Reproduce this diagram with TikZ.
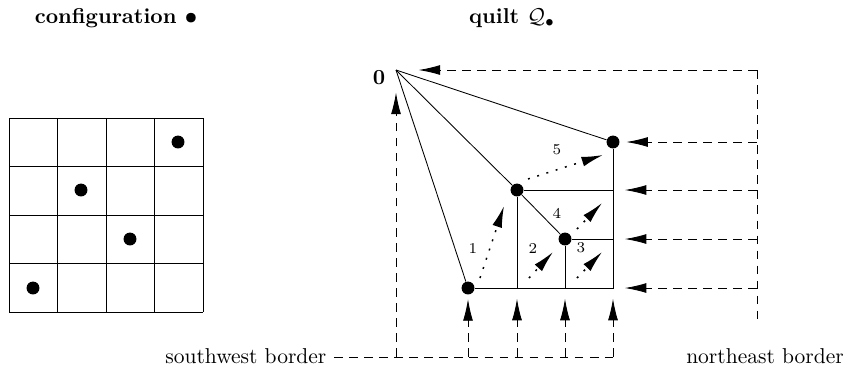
\documentclass[tikz,border=0pt]{standalone}
\usepackage{amssymb}
\usepackage{amsmath}
\usetikzlibrary{arrows.meta}
\begin{document}
\begin{tikzpicture}[x=0.465pt,y=-0.465pt,
  cell/.style={inner sep=0pt, minimum size=6pt, fill=black, circle},
  border/.style={dash pattern=on 4pt off 3pt},
  flip/.style={dash pattern=on 0.9pt off 3.6pt, line width=0.7pt},
  lab/.style={font=\scriptsize},
  >={Latex[length=10pt,width=4.6pt]}]
\useasboundingbox (0,0) rectangle (853,367);
% configuration
\node[font=\bfseries] (conftitle) at (116,18) {configuration $\boldsymbol{\bullet}$};
\foreach \i in {0,...,4} {
  \draw (9+48.5*\i,118) -- (9+48.5*\i,312);
  \draw (9,118+48.5*\i) -- (203,118+48.5*\i);
}
\node[cell] (c1) at (33,288) {};
\node[cell] (c2) at (81,190) {};
\node[cell] (c3) at (130,239) {};
\node[cell] (c4) at (178,142) {};
% quilt
\node[font=\bfseries] (quilttitle) at (512,18) {quilt $\mathcal{Q}_\bullet$};
\coordinate (zero) at (396,70);
\node[font=\bfseries] (zerolab) at (379,78) {0};
\node[cell] (q1) at (468,288) {};
\node[cell] (q2) at (517,190) {};
\node[cell] (q3) at (565,239) {};
\node[cell] (q4) at (613,142) {};
\coordinate (b2) at (517,288);
\coordinate (b3) at (565,288);
\coordinate (b4) at (613,288);
\coordinate (r2) at (613,190);
\coordinate (r3) at (613,239);
\draw (q1) -- (b4) -- (q4);
\draw (q2) -- (b2);
\draw (q3) -- (b3);
\draw (q2) -- (r2);
\draw (q3) -- (r3);
\draw (zero) -- (q1);
\draw (zero) -- (q2);
\draw (zero) -- (q4);
\draw (q2) -- (q3);
% flips
\draw[flip,->] (480,278) -- (504,206);
\draw[flip,->] (529,278) -- (553,252);
\draw[flip,->] (577,278) -- (602,252);
\draw[flip,->] (577,229) -- (602,203);
\draw[flip,->] (528,179) -- (603,155);
\node[lab] (f1) at (473,248) {1};
\node[lab] (f2) at (533,248) {2};
\node[lab] (f3) at (581,248) {3};
\node[lab] (f4) at (557,213) {4};
\node[lab] (f5) at (557,150) {5};
% borders
\node[anchor=east] (swlab) at (334,356) {southwest border};
\node (nelab) at (765,356) {northeast border};
\coordinate (sw0) at (396,357);
\coordinate (sw1) at (468,357);
\coordinate (sw2) at (517,357);
\coordinate (sw3) at (565,357);
\coordinate (sw4) at (613,357);
\coordinate (ne0) at (757,70);
\coordinate (ne1) at (757,142);
\coordinate (ne2) at (757,190);
\coordinate (ne3) at (757,239);
\coordinate (ne4) at (757,288);
\coordinate (nebot) at (757,325);
\draw[border] (swlab.east |- sw0) -- (sw4);
\draw[border] (ne0) -- (nebot);
\draw[border,->,shorten >=10.5pt] (sw0) -- (zero);
\draw[border,->,shorten >=10.5pt] (ne0) -- (zero);
\draw[border,->,shorten >=2pt] (sw1) -- (q1);
\draw[border,->,shorten >=5pt] (sw2) -- (b2);
\draw[border,->,shorten >=5pt] (sw3) -- (b3);
\draw[border,->,shorten >=5pt] (sw4) -- (b4);
\draw[border,->,shorten >=3pt] (ne1) -- (q4);
\draw[border,->,shorten >=5.5pt] (ne2) -- (r2);
\draw[border,->,shorten >=5.5pt] (ne3) -- (r3);
\draw[border,->,shorten >=5.5pt] (ne4) -- (b4);
\end{tikzpicture}
\end{document}
